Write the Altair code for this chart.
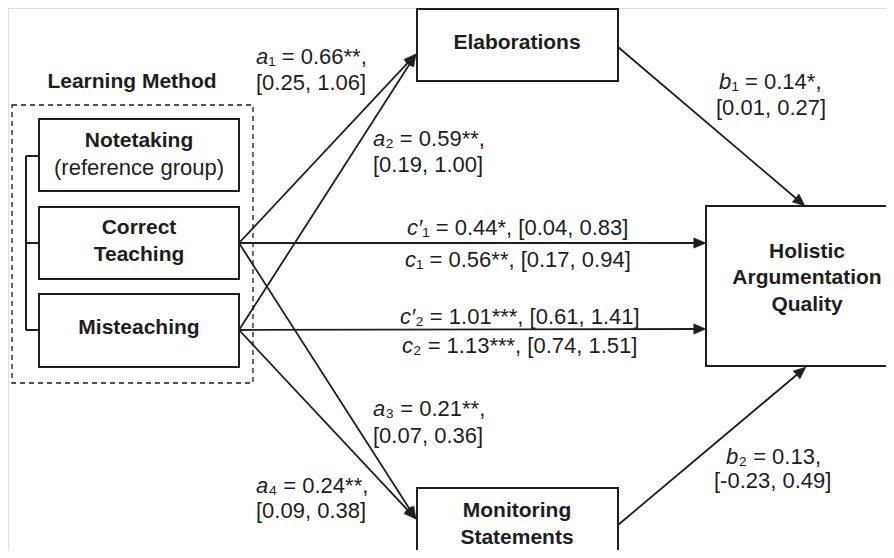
import math
import altair as alt
import pandas as pd

W, H = 878, 542
FONT = "Liberation Sans"
INK = "#1e1e1e"
FS_BOLD = 21
FS = 22

# ---- boxes (page pixel coordinates) ----
box_names = ["Notetaking", "Correct Teaching", "Misteaching", "Elaborations",
             "Monitoring Statements", "Holistic Argumentation Quality"]
box_x0 = [39, 39, 39, 417, 417, 706]
box_x1 = [239, 239, 239, 618, 618, 920]
box_y0 = [119, 207, 294, 9, 488, 206]
box_y1 = [191, 279, 367, 81, 580, 366]

# ---- box texts ----
bt_text = ["Learning Method", "Notetaking", "(reference group)", "Correct", "Teaching",
           "Misteaching", "Elaborations", "Monitoring", "Statements",
           "Holistic", "Argumentation", "Quality"]
bt_x = [132, 139, 139, 139, 139, 139, 517, 517, 517, 807, 807, 807]
bt_y = [82, 141, 168, 228, 255, 328, 43, 511, 538, 252, 278, 305]
bt_bold = [True, True, False, True, True, True, True, True, True, True, True, True]

# ---- paths: start -> arrow tip ----
edge_x0 = [239, 239, 239, 239, 239, 239, 618, 618]
edge_y0 = [243, 330, 243, 330, 243, 330, 47, 525]
edge_x1 = [416, 416, 416, 416, 706, 706, 805, 806]
edge_y1 = [54, 54, 519, 519, 243, 329, 206, 367]

# ---- coefficient labels: italic symbol + rest, left aligned ----
lab_sym = ["a", "a", "a", "a", "b", "b", "c'", "c", "c'", "c"]
lab_rest = ["₁ = 0.66**,", "₂ = 0.59**,", "₃ = 0.21**,", "₄ = 0.24**,",
            "₁ = 0.14*,", "₂ = 0.13,",
            "₁ = 0.44*, [0.04, 0.83]", "₁ = 0.56**, [0.17, 0.94]",
            "₂ = 1.01***, [0.61, 1.41]", "₂ = 1.13***, [0.74, 1.51]"]
lab_x = [256, 373, 373, 256, 719, 726, 407, 405, 400, 402]
lab_y = [57, 139, 409, 486, 82, 457, 228, 260, 317, 346]
ci_text = ["[0.25, 1.06]", "[0.19, 1.00]", "[0.07, 0.36]", "[0.09, 0.38]",
           "[0.01, 0.27]", "[-0.23, 0.49]"]
ci_x = [256, 373, 373, 256, 716, 714]
ci_y = [83, 165, 436, 511, 108, 481]

# dashed group frame and bracket
frame = pd.DataFrame({"x0": [12], "x1": [253], "y0": [105], "y1": [383]})
br_x0 = [26, 26, 26, 26]
br_x1 = [26, 39, 39, 39]
br_y0 = [156, 156, 243, 330]
br_y1 = [330, 156, 243, 330]

# ---------------------------------------------------------------
xs = alt.Scale(domain=[8, 8 + W], nice=False, zero=False)
ys = alt.Scale(domain=[8, 8 + H], nice=False, zero=False, reverse=True)

def X(f, t="Q"):
    return alt.X(f"{f}:{t}", scale=xs, axis=None)

def Y(f, t="Q"):
    return alt.Y(f"{f}:{t}", scale=ys, axis=None)

boxes = pd.DataFrame({"name": box_names, "x0": box_x0, "x1": box_x1,
                      "y0": box_y0, "y1": box_y1})

# shorten lines so they end inside the arrowheads
ex1, ey1, ang = [], [], []
for a, b, c, d in zip(edge_x0, edge_y0, edge_x1, edge_y1):
    dx, dy = c - a, d - b
    L = math.hypot(dx, dy)
    ex1.append(c - dx / L * 7)
    ey1.append(d - dy / L * 7)
    ang.append(math.degrees(math.atan2(dy, dx)) % 360)
edges = pd.DataFrame({"x0": edge_x0, "y0": edge_y0, "x1": ex1, "y1": ey1,
                      "tx": edge_x1, "ty": edge_y1, "ang": ang})

sym_w = {"a": 12.2, "b": 12.5, "c": 11.0, "c'": 15.2}
labs = pd.DataFrame({"sym": lab_sym, "rest": lab_rest, "x": lab_x, "y": lab_y})
labs["rx"] = [x + sym_w[s] for x, s in zip(labs["x"], labs["sym"])]
labs["sym"] = labs["sym"].str.replace("'", "′")
cis = pd.DataFrame({"t": ci_text, "x": ci_x, "y": ci_y})
bts = pd.DataFrame({"t": bt_text, "x": bt_x, "y": bt_y, "bold": bt_bold})
brk = pd.DataFrame({"x0": br_x0, "x1": br_x1, "y0": br_y0, "y1": br_y1})

frame_l = alt.Chart(frame).mark_rect(fillOpacity=0, stroke=INK, strokeWidth=1.3,
                                     strokeDash=[5, 4]).encode(
    x=X("x0"), x2="x1", y=Y("y0"), y2="y1")

bracket_l = alt.Chart(brk).mark_rule(color=INK, strokeWidth=2).encode(
    x=X("x0"), x2="x1", y=Y("y0"), y2="y1")

lines_l = alt.Chart(edges).mark_rule(color=INK, strokeWidth=1.8).encode(
    x=X("x0"), x2="x1", y=Y("y0"), y2="y1")

heads_l = alt.Chart(edges).mark_point(
    shape="M 0 0 L -2 -0.85 L -2 0.85 Z", filled=True, fill=INK, stroke=INK,
    strokeWidth=0.5, size=150, opacity=1).encode(
    x=X("tx"), y=Y("ty"), angle=alt.Angle("ang:Q", scale=None))

boxes_l = alt.Chart(boxes).mark_rect(fill="white", stroke=INK, strokeWidth=2).encode(
    x=X("x0"), x2="x1", y=Y("y0"), y2="y1")

bold_l = alt.Chart(bts[bts.bold]).mark_text(
    font=FONT, fontSize=FS_BOLD, fontWeight="bold", color=INK, align="center",
    baseline="middle").encode(x=X("x"), y=Y("y"), text="t:N")
norm_l = alt.Chart(bts[~bts.bold]).mark_text(
    font=FONT, fontSize=FS, color=INK, align="center",
    baseline="middle").encode(x=X("x"), y=Y("y"), text="t:N")

sym_l = alt.Chart(labs).mark_text(
    font=FONT, fontSize=FS, fontStyle="italic", color=INK, align="left",
    baseline="middle").encode(x=X("x"), y=Y("y"), text="sym:N")
rest_l = alt.Chart(labs).mark_text(
    font=FONT, fontSize=FS, color=INK, align="left",
    baseline="middle").encode(x=X("rx"), y=Y("y"), text="rest:N")
ci_l = alt.Chart(cis).mark_text(
    font=FONT, fontSize=FS, color=INK, align="left",
    baseline="middle").encode(x=X("x"), y=Y("y"), text="t:N")

chart = alt.layer(frame_l, bracket_l, lines_l, boxes_l, heads_l,
                  bold_l, norm_l, sym_l, rest_l, ci_l).properties(
    width=W, height=H, autosize=alt.AutoSizeParams(type="none"), padding=0
).configure_view(stroke=None).configure(background="white")

chart.save("out.html", embed_options={"renderer": "svg", "actions": False})
